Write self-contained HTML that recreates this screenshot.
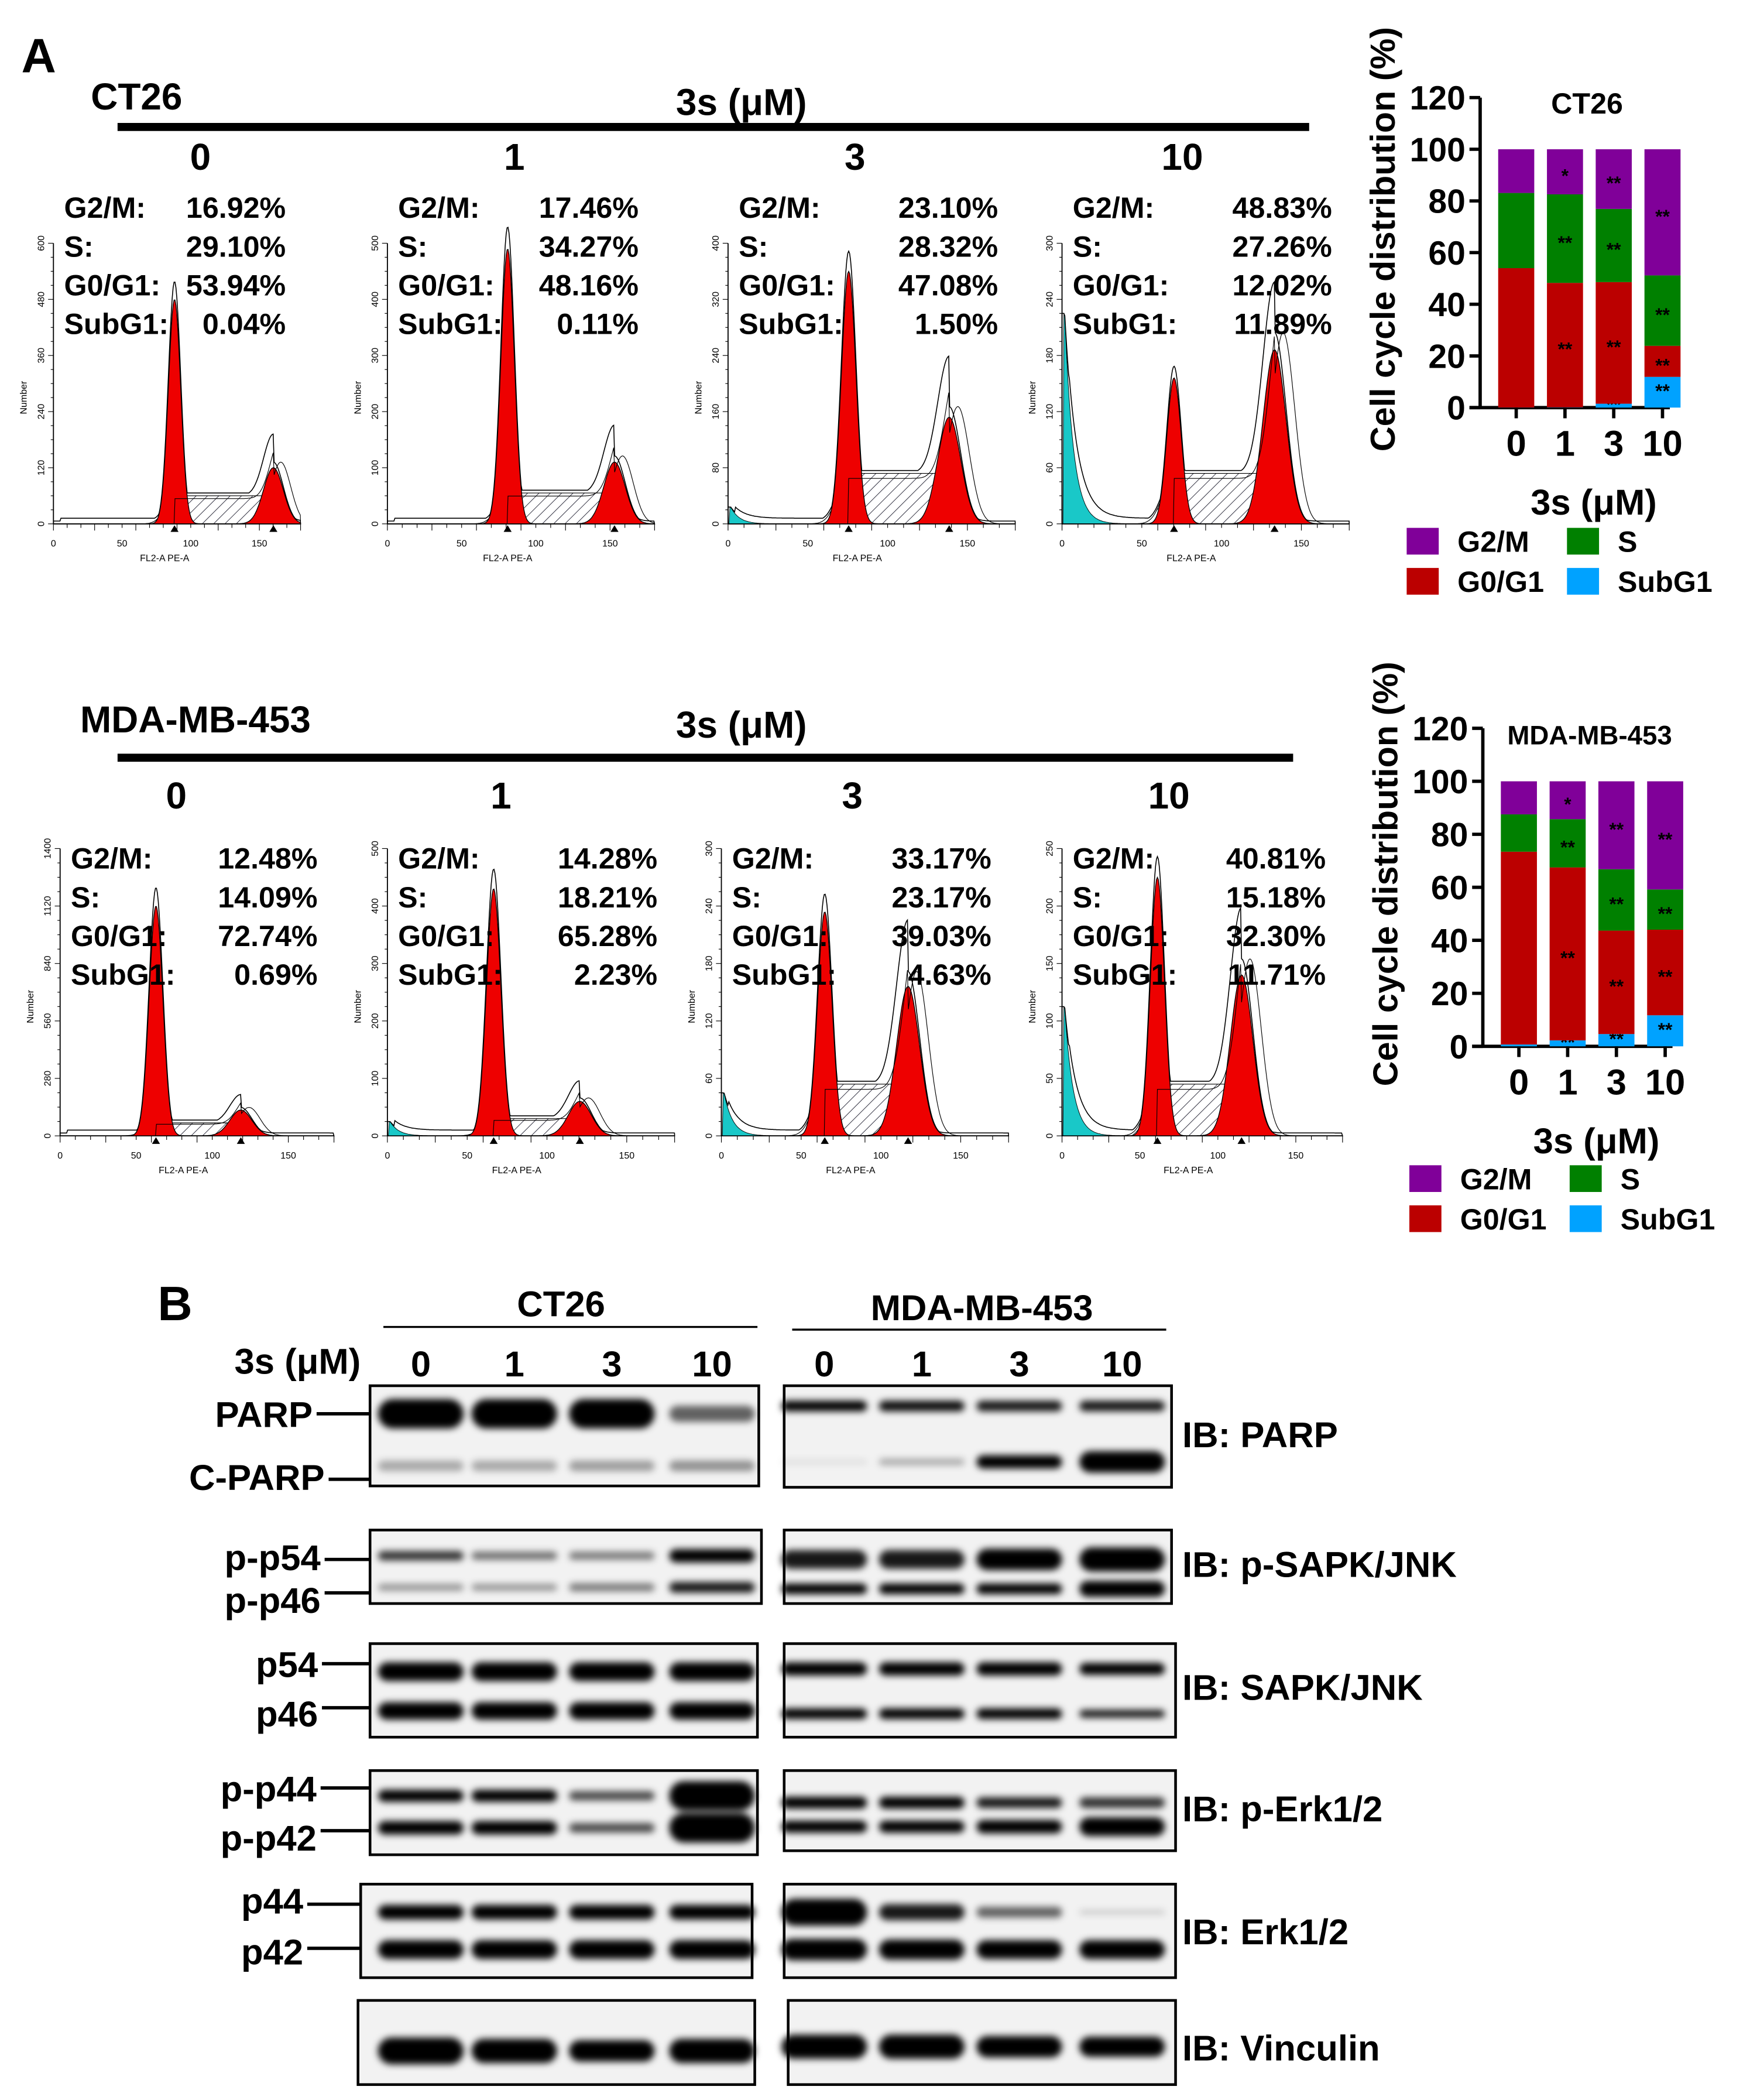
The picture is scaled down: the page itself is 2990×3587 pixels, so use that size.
<!DOCTYPE html>
<html><head><meta charset="utf-8"><style>
html,body{margin:0;padding:0;background:#fff}
svg{display:block}
text{font-family:"Liberation Sans",Arial,sans-serif;font-weight:bold;fill:#000}
.sm{font-weight:normal;font-size:7px}
</style></head><body>
<svg id="fig" width="2990" height="3587" viewBox="0 0 1310 1571.5" xmlns="http://www.w3.org/2000/svg">
<defs>
<pattern id="hatch" width="6" height="6" patternUnits="userSpaceOnUse" patternTransform="rotate(45)"><line x1="0" y1="0" x2="0" y2="6" stroke="#223" stroke-width="0.8"/></pattern>
<filter id="blur" x="-20%" y="-50%" width="140%" height="200%"><feGaussianBlur stdDeviation="2.6"/></filter>
</defs>
<g id="root"></g>
</svg>
<script>
// ---- data ----
const doses = ["0","1","3","10"];
const ct26SubG1 = [0.04, 0.11, 1.50, 11.89];
const ct26G0G1 = [53.94, 48.16, 47.08, 12.02];
const ct26S = [29.10, 34.27, 28.32, 27.26];
const ct26G2M = [16.92, 17.46, 23.10, 48.83];
const mdaSubG1 = [0.69, 2.23, 4.63, 11.71];
const mdaG0G1 = [72.74, 65.28, 39.03, 32.30];
const mdaS = [14.09, 18.21, 23.17, 15.18];
const mdaG2M = [12.48, 14.28, 33.17, 40.81];
const yTicks = [0, 20, 40, 60, 80, 100, 120];
const ct26Stars = [["","","",""],["","**","**","*"],["**","**","**","**"],["**","**","**","**"]];
const mdaStars = [["","","",""],["**","**","**","*"],["**","**","**","**"],["**","**","**","**"]];
// histogram peak params (fraction of x range, fraction of height)
const ct26G1Pos = [0.49, 0.45, 0.42, 0.39];
const ct26G1H = [0.80, 0.98, 0.90, 0.52];
const ct26G2Pos = [0.89, 0.85, 0.77, 0.74];
const ct26G2H = [0.20, 0.22, 0.38, 0.62];
const ct26SubH = [0, 0, 0.06, 0.75];
const mdaG1Pos = [0.35, 0.37, 0.36, 0.34];
const mdaG1H = [0.80, 0.86, 0.78, 0.90];
const mdaG2Pos = [0.66, 0.67, 0.65, 0.64];
const mdaG2H = [0.09, 0.12, 0.52, 0.56];
const mdaSubH = [0, 0.05, 0.15, 0.45];

const NS="http://www.w3.org/2000/svg";
const root=document.getElementById('root');
function mk(tag,attrs,parent,txt){const e=document.createElementNS(NS,tag);for(const k in attrs)e.setAttribute(k,attrs[k]);if(txt!==undefined)e.textContent=txt;(parent||root).appendChild(e);return e;}
function T(x,y,s,size,name,anchor){const e=mk('text',{x:x,y:y,'font-size':size,'text-anchor':anchor||'start'},root,s);return e;}

T(16,54,"A",36,"panel-a-label");
// ---- headers ----
function header(cell,cx,cy,titleX,lineY,lineX2,doseX,doseY,nm){
  T(titleX,cy,cell,28,nm+"-title");
  T(555,cy+4,"3s (μM)",28,nm+"-dose-title","middle");
  const l=mk('line',{x1:88,y1:lineY,x2:lineX2,y2:lineY,stroke:'#000','stroke-width':6});
  
  doses.forEach((d,i)=>T(doseX[i],doseY,d,28,nm+"-dose-"+d,"middle"));
}
header("CT26",0,82,68,95,980,[150,385,640,885],127,"ct26");
header("MDA-MB-453",0,548,60,567,968,[132,375,638,875],605,"mda");

// ---- histograms ----
function gauss(x,m,s){return Math.exp(-0.5*((x-m)/s)**2);}
function histo(x0,x1,base,h,g1p,g1h,g2p,g2h,subh,stats,nm,tickMax,statTop){
  const g=mk('g',{});
  const W=x1-x0;
  mk('line',{x1:x0,y1:base,x2:x1,y2:base,stroke:'#000','stroke-width':0.8},g);
  mk('line',{x1:x0,y1:base,x2:x0,y2:base-h,stroke:'#000','stroke-width':0.8},g);
  for(let i=0;i<=20;i++){const y=base-h*i/20;mk('line',{x1:x0-(i%4==0?4:2),y1:y,x2:x0,y2:y,stroke:'#000','stroke-width':0.5},g);}
  for(let i=0;i<=18;i++){const x=x0+W*i/18;mk('line',{x1:x,y1:base,x2:x,y2:base+(i%3==0?5:3),stroke:'#000','stroke-width':0.5},g);}
  const sd1=0.025*W, sd2=0.04*W;
  const m1=x0+g1p*W, m2=x0+g2p*W;
  const sh=Math.min(0.18,g2h*0.5);
  function pth(f){let d='M'+x0+','+base;for(let x=x0;x<=x1;x+=0.7){d+=' L'+x.toFixed(1)+','+(base-f(x)*h).toFixed(1);}return d+' L'+x1+','+base+' Z';}
  const sF=x=>{if(x<m1||x>m2)return Math.max(gauss(x,m1,sd1*1.5),gauss(x,m2,sd2))*sh; return sh;};
  mk('path',{d:pth(sF),fill:'url(#hatch)',stroke:'#000','stroke-width':0.5},g);
  if(subh>0){mk('path',{d:pth(x=>subh*Math.exp(-Math.max(0,x-x0-2)/(0.03*W))*(x>x0+1?1:0)),fill:'#19c8c8',stroke:'#000','stroke-width':0.4},g);}
  mk('path',{d:pth(x=>g1h*gauss(x,m1,sd1)),fill:'#ee0000',stroke:'#000','stroke-width':0.6},g);
  mk('path',{d:pth(x=>g2h*gauss(x,m2,sd2)),fill:'#ee0000',stroke:'#000','stroke-width':0.6},g);
  const env=x=>Math.max(g1h*gauss(x,m1,sd1)*1.08, g2h*gauss(x,m2,sd2)*1.1+ (x>m1&&x<m2?sh:0), sF(x)+0.01, subh*Math.exp(-Math.max(0,x-x0-2)/(0.04*W))+0.02*(x>x0+5&&x<m1?1:0));
  mk('path',{d:pth(env),fill:'none',stroke:'#000','stroke-width':0.7},g);
  const env2=x=>g2h*1.1*gauss(x,m2+0.03*W,sd2)+ (x>m1&&x<m2?sh:0)*0.9;
  mk('path',{d:pth(env2),fill:'none',stroke:'#000','stroke-width':0.5},g);
  [m1,m2].forEach(m=>mk('polygon',{points:`${m-3},${base+6} ${m+3},${base+6} ${m},${base+1}`,fill:'#000'},g));
  mk('text',{x:x0+W*0.45,y:base+28,class:'sm','text-anchor':'middle'},g,"FL2-A PE-A");
  mk('text',{x:0,y:0,class:'sm',transform:`translate(${x0-20},${base-h*0.45}) rotate(-90)`,'text-anchor':'middle'},g,"Number");
  for(let i=0;i<=3;i++){mk('text',{x:x0+W*i/3.6,y:base+17,class:'sm','text-anchor':'middle'},g,String(i*50));}
  for(let i=0;i<=5;i++){mk('text',{x:0,y:0,class:'sm',transform:`translate(${x0-7},${base-h*i/5}) rotate(-90)`,'text-anchor':'middle'},g,String(i*tickMax/5));}
  const lab=["G2/M:","S:","G0/G1:","SubG1:"];
  stats.forEach((s,i)=>{mk('text',{x:x0+8,y:statTop+i*29,'font-size':22},g,lab[i]);mk('text',{x:x0+W*0.94,y:statTop+i*29,'font-size':22,'text-anchor':'end'},g,s.toFixed(2)+"%");});
}
const ct26X=[[40,225],[290,490],[545,760],[795,1010]];
const mdaX=[[45,250],[290,505],[540,755],[795,1005]];
for(let i=0;i<4;i++){
  histo(ct26X[i][0],ct26X[i][1],392,210,ct26G1Pos[i],ct26G1H[i],ct26G2Pos[i],ct26G2H[i],ct26SubH[i],[ct26G2M[i],ct26S[i],ct26G0G1[i],ct26SubG1[i]],"ct26-histogram-"+doses[i],[600,500,400,300][i],163);
  histo(mdaX[i][0],mdaX[i][1],850,215,mdaG1Pos[i],mdaG1H[i],mdaG2Pos[i],mdaG2H[i],mdaSubH[i],[mdaG2M[i],mdaS[i],mdaG0G1[i],mdaSubG1[i]],"mda-histogram-"+doses[i],[1400,500,300,250][i],650);
}

// ---- stacked bar charts ----
const colors={sub:'#00a2ff',g1:'#bb0000',s:'#008000',g2:'#800099'};
function barChart(ax,y0,y120,title,sub,g1,s,g2,stars,nm,legY){
  const g=mk('g',{});
  const ys=v=>y0-(y0-y120)*v/120;
  const xs=i=>ax+27+i*36.5;
  yTicks.forEach(t=>{mk('line',{x1:ax-8,y1:ys(t),x2:ax,y2:ys(t),stroke:'#000','stroke-width':2.5},g);mk('text',{x:ax-11,y:ys(t)+9,'font-size':25,'text-anchor':'end'},g,String(t));});
  mk('line',{x1:ax,y1:ys(120),x2:ax,y2:y0,stroke:'#000','stroke-width':2.5},g);
  mk('line',{x1:ax-8,y1:y0,x2:ax+142,y2:y0,stroke:'#000','stroke-width':2.5},g);
  mk('text',{x:ax+80,y:ys(120)+12,'font-size':title.length>5?20:22,'text-anchor':'middle'},g,title);
  const series=[[sub,colors.sub],[g1,colors.g1],[s,colors.s],[g2,colors.g2]];
  for(let i=0;i<4;i++){
    let acc=0;
    series.forEach((sr,k)=>{const v=sr[0][i];const r=mk('rect',{x:xs(i)-13.5,y:ys(acc+v),width:27,height:ys(acc)-ys(acc+v),fill:sr[1]},g);
      
      const st=stars[i][k];if(st){mk('text',{x:xs(i),y:ys(acc+v/2)+(k==0?4:8),'font-size':14,'text-anchor':'middle'},g,st);}
      acc+=v;});
    mk('line',{x1:xs(i),y1:y0,x2:xs(i),y2:y0+8,stroke:'#000','stroke-width':2.5},g);
    mk('text',{x:xs(i),y:y0+36,'font-size':27,'text-anchor':'middle'},g,doses[i]);
  }
  mk('text',{x:0,y:0,'font-size':26,transform:`translate(${ax-64},${(y0+y120)/2-10}) rotate(-90)`,'text-anchor':'middle'},g,"Cell cycle distribution (%)");
  mk('text',{x:ax+85,y:y0+80,'font-size':27,'text-anchor':'middle'},g,"3s (μM)");
  const le=[["G2/M",colors.g2,ax-55,legY],["S",colors.s,ax+65,legY],["G0/G1",colors.g1,ax-55,legY+30],["SubG1",colors.sub,ax+65,legY+30]];
  le.forEach(l=>{const r=mk('rect',{x:l[2],y:l[3]-18,width:24,height:20,fill:l[1]},g);mk('text',{x:l[2]+38,y:l[3],'font-size':22},g,l[0]);});
}
barChart(1108,305,73,"CT26",ct26SubG1,ct26G0G1,ct26S,ct26G2M,ct26Stars,"ct26-bar-chart",413);
barChart(1110,783,545,"MDA-MB-453",mdaSubG1,mdaG0G1,mdaS,mdaG2M,mdaStars,"mda-bar-chart",890);

// ---- western blots ----
T(118,988,"B",36,"panel-b-label");
T(420,985,"CT26",27,"blot-ct26-title","middle");
T(735,988,"MDA-MB-453",27,"blot-mda-title","middle");
mk('line',{x1:287,y1:993,x2:567,y2:993,stroke:'#000','stroke-width':1.5});
mk('line',{x1:593,y1:995,x2:873,y2:995,stroke:'#000','stroke-width':1.5});
T(270,1028,"3s (μM)",27,"blot-dose-title","end");
const lanesL=[315,385,458,533], lanesR=[617,690,763,840];
doses.forEach((d,i)=>{T(lanesL[i],1030,d,27,"blot-ct26-dose-"+d,"middle");T(lanesR[i],1030,d,27,"blot-mda-dose-"+d,"middle");});
const blots=[
 {name:"parp",L:[277,568,1037,1112],R:[587,877,1037,1113],ib:"IB: PARP",ibY:1083,
  bL:[[0.28,[22,22,22,12],[1,1,1,0.6]],[0.8,[8,8,8,8],[0.3,0.3,0.35,0.4]]],
  bR:[[0.2,[8,8,8,8],[1,0.95,0.9,0.9]],[0.75,[3,5,10,16],[0.1,0.3,1,1]]],
  labels:[["PARP",234,1068,1058],["C-PARP",243,1115,1107]]},
 {name:"p-sapk",L:[277,570,1145,1200],R:[587,877,1145,1200],ib:"IB: p-SAPK/JNK",ibY:1180,
  bL:[[0.35,[7,6,6,10],[0.8,0.55,0.5,1]],[0.78,[5,5,6,8],[0.4,0.4,0.5,0.9]]],
  bR:[[0.4,[14,14,16,18],[0.9,0.9,1,1]],[0.8,[8,8,8,12],[1,1,1,1]]],
  labels:[["p-p54",240,1175,1167],["p-p46",240,1207,1192]]},
 {name:"sapk",L:[277,567,1230,1300],R:[587,880,1230,1300],ib:"IB: SAPK/JNK",ibY:1272,
  bL:[[0.3,[14,14,14,14],[1,1,1,1]],[0.72,[13,13,13,13],[1,1,1,1]]],
  bR:[[0.27,[10,10,10,9],[1,1,1,1]],[0.75,[8,8,8,6],[1,1,1,0.9]]],
  labels:[["p54",238,1255,1245],["p46",238,1292,1278]]},
 {name:"p-erk",L:[277,567,1325,1388],R:[587,880,1325,1385],ib:"IB: p-Erk1/2",ibY:1363,
  bL:[[0.3,[9,9,7,22],[1,1,0.7,1]],[0.68,[10,10,7,22],[1,1,0.7,1]]],
  bR:[[0.4,[9,9,8,8],[1,1,0.9,0.8]],[0.7,[9,9,10,14],[1,1,1,1]]],
  labels:[["p-p44",237,1348,1338],["p-p42",237,1385,1370]]},
 {name:"erk",L:[270,563,1410,1480],R:[587,880,1410,1480],ib:"IB: Erk1/2",ibY:1455,
  bL:[[0.3,[11,11,11,11],[1,1,1,1]],[0.7,[14,14,14,14],[1,1,1,1]]],
  bR:[[0.3,[20,12,8,3],[1,0.9,0.6,0.2]],[0.7,[16,15,14,14],[1,1,1,1]]],
  labels:[["p44",227,1432,1425],["p42",227,1470,1458]]},
 {name:"vinculin",L:[268,565,1497,1560],R:[590,880,1497,1560],ib:"IB: Vinculin",ibY:1542,
  bL:[[0.6,[20,18,16,18],[1,1,1,1]]],bR:[[0.55,[18,18,16,15],[1,1,1,1]]],labels:[]}
];
blots.forEach(b=>{
  [[b.L,b.bL,lanesL,'ct26'],[b.R,b.bR,lanesR,'mda']].forEach(([box,bands,lanes,side])=>{
    const g=mk('g',{});
    const [x0,x1,y0,y1]=box;
    mk('rect',{x:x0,y:y0,width:x1-x0,height:y1-y0,fill:'#f2f2f2'},g);
    const bg=mk('g',{filter:'url(#blur)'},g);
    bands.forEach(bd=>{lanes.forEach((lx,i)=>{const th=bd[1][i],dk=bd[2][i];const y=y0+(y1-y0)*bd[0];
      mk('rect',{x:lx-32,y:y-th/2,width:64,height:th,rx:th/2,fill:'#000','fill-opacity':dk},bg);});});
    mk('rect',{x:x0,y:y0,width:x1-x0,height:y1-y0,fill:'none',stroke:'#000','stroke-width':2},g);
  });
  T(885,b.ibY,b.ib,27,"ib-"+b.name+"-label");
  b.labels.forEach(l=>{T(l[1],l[2],l[0],27,"band-"+l[0].toLowerCase()+"-label","end");mk('line',{x1:l[1]+3,y1:l[3],x2:b.L[0],y2:l[3],stroke:'#000','stroke-width':2.5});});
});
</script>
</body></html>
